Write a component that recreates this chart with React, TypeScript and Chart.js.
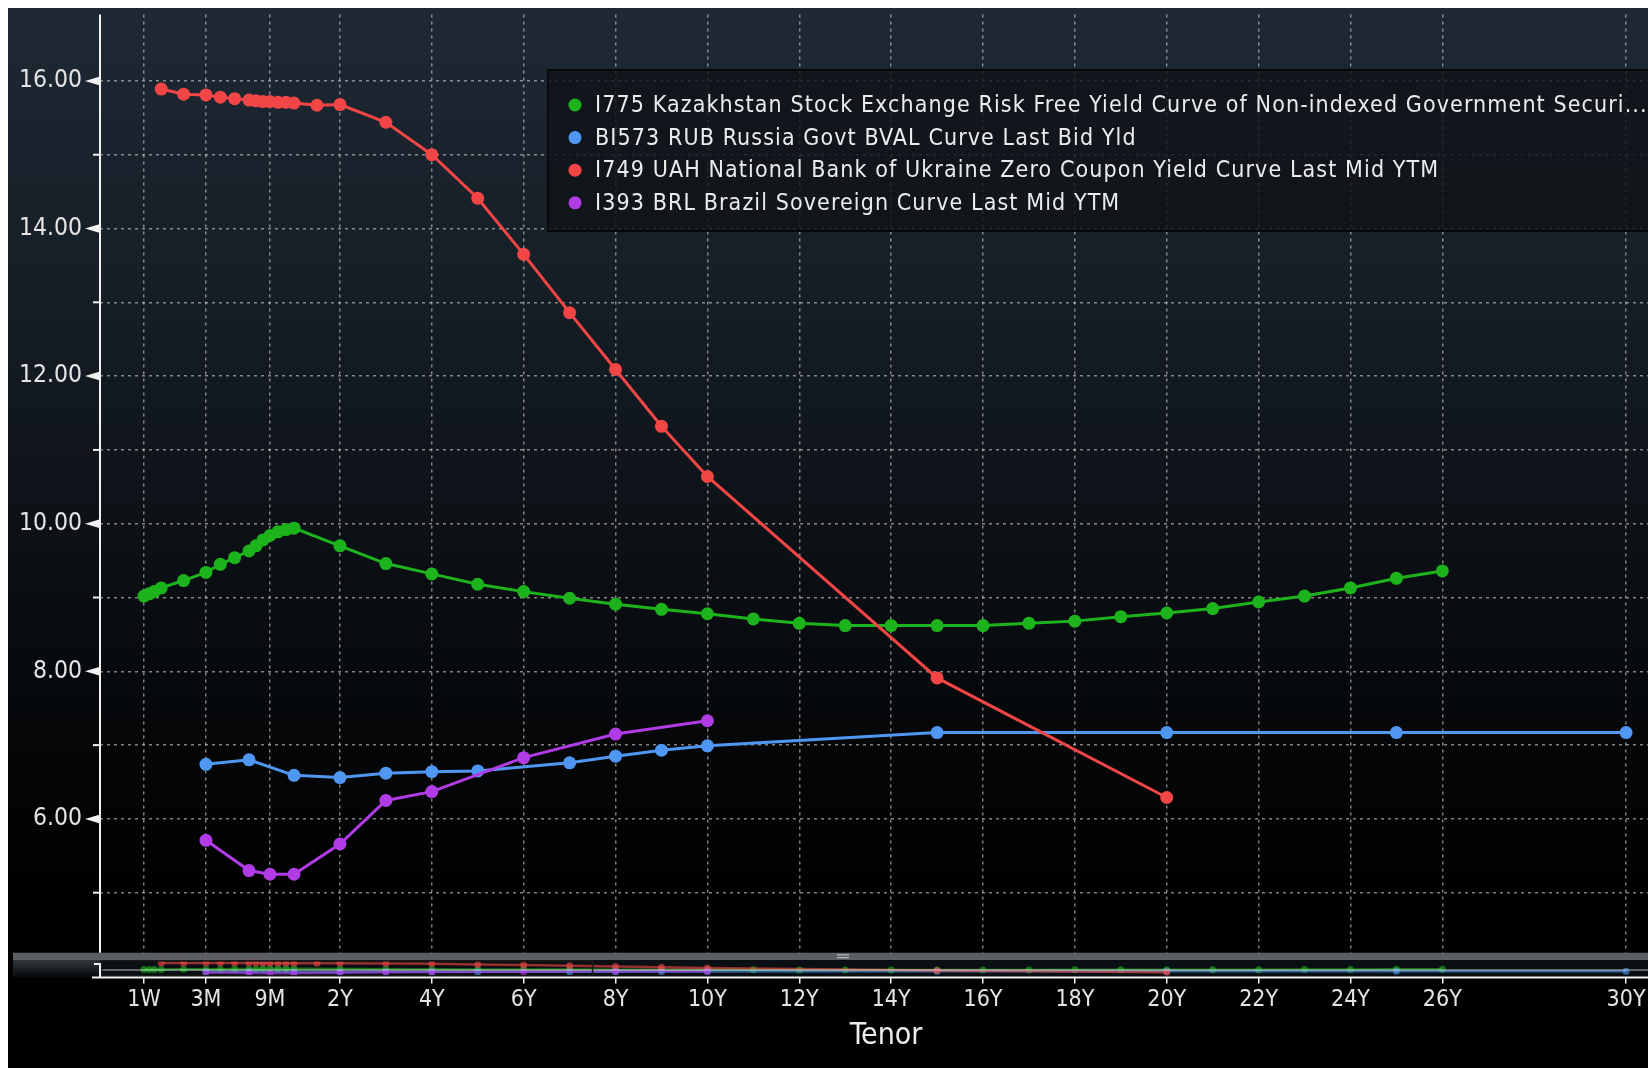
import React, { useEffect, useRef } from 'react';
import { Chart, LinearScale, registerables } from 'chart.js';

// ---------------- data ----------------
const TICK_TENORS = ['1W', '3M', '9M', '2Y', '4Y', '6Y', '8Y', '10Y', '12Y', '14Y', '16Y', '18Y', '20Y', '22Y', '24Y', '26Y', '30Y'];
const Y_GRID = [4, 5, 6, 7, 8, 9, 10, 11, 12, 13, 14, 15, 16];

const KZ_LABEL = 'I775 Kazakhstan Stock Exchange Risk Free Yield Curve of Non-indexed Government Securi...';
const KZ_TENORS = ['1W', '2W', '3W', '1M', '2M', '3M', '4M', '5M', '6M', '7M', '8M', '9M', '10M', '11M', '12M',
  '2Y', '3Y', '4Y', '5Y', '6Y', '7Y', '8Y', '9Y', '10Y', '11Y', '12Y', '13Y', '14Y', '15Y', '16Y', '17Y', '18Y',
  '19Y', '20Y', '21Y', '22Y', '23Y', '24Y', '25Y', '26Y'];
const KZ_YIELDS = [9.02, 9.05, 9.08, 9.13, 9.23, 9.34, 9.45, 9.54, 9.63, 9.70, 9.78, 9.84, 9.89, 9.92, 9.94,
  9.70, 9.46, 9.32, 9.18, 9.08, 8.99, 8.91, 8.84, 8.78, 8.71, 8.65, 8.62, 8.62, 8.62, 8.62, 8.65, 8.68,
  8.74, 8.79, 8.85, 8.94, 9.02, 9.13, 9.26, 9.36];

const RU_LABEL = 'BI573 RUB Russia Govt BVAL Curve Last Bid Yld';
const RU_TENORS = ['3M', '6M', '1Y', '2Y', '3Y', '4Y', '5Y', '7Y', '8Y', '9Y', '10Y', '15Y', '20Y', '25Y', '30Y'];
const RU_YIELDS = [6.74, 6.80, 6.59, 6.56, 6.62, 6.64, 6.65, 6.76, 6.85, 6.93, 6.99, 7.17, 7.17, 7.17, 7.17];

const UA_LABEL = 'I749 UAH National Bank of Ukraine Zero Coupon Yield Curve Last Mid YTM';
const UA_TENORS = ['1M', '2M', '3M', '4M', '5M', '6M', '7M', '8M', '9M', '10M', '11M', '12M', '18M',
  '2Y', '3Y', '4Y', '5Y', '6Y', '7Y', '8Y', '9Y', '10Y', '15Y', '20Y'];
const UA_YIELDS = [15.89, 15.82, 15.81, 15.78, 15.76, 15.74, 15.73, 15.72, 15.72, 15.71, 15.71, 15.70, 15.67,
  15.68, 15.44, 15.00, 14.41, 13.65, 12.86, 12.09, 11.32, 10.64, 7.91, 6.29];

const BR_LABEL = 'I393 BRL Brazil Sovereign Curve Last Mid YTM';
const BR_TENORS = ['3M', '6M', '9M', '1Y', '2Y', '3Y', '4Y', '6Y', '8Y', '10Y'];
const BR_YIELDS = [5.71, 5.30, 5.25, 5.25, 5.66, 6.25, 6.37, 6.83, 7.15, 7.33];

// tenor axis layout (Bloomberg stretches the short end)
const AXIS_BREAKS = [0, 1 / 52, 0.25, 0.5, 0.75, 1, 2, 31];
const AXIS_UNITS = [-3.224, -2.266, -0.917, 0.02, 0.476, 1, 2, 31];

const FONT = "'DejaVu Sans Condensed', 'Liberation Sans Narrow', 'DejaVu Sans', sans-serif";

// ---------------- helpers ----------------
const tenorYears = (t: string) => {
  const n = parseFloat(t);
  const u = t.slice(-1);
  return u === 'W' ? n / 52 : u === 'M' ? n / 12 : n;
};

const interp = (v: number, from: number[], to: number[]) => {
  let i = 1;
  while (i < from.length - 1 && v > from[i]) i++;
  const f0 = from[i - 1], f1 = from[i];
  return to[i - 1] + ((v - f0) * (to[i] - to[i - 1])) / (f1 - f0);
};
const warp = (t: number) => interp(t, AXIS_BREAKS, AXIS_UNITS);
const unwarp = (u: number) => interp(u, AXIS_UNITS, AXIS_BREAKS);

class TenorScale extends LinearScale {
  static id = 'tenor';
  getPixelForValue(value: any) {
    if (value === null || value === undefined || isNaN(+value)) return NaN;
    const a = warp(this.min), b = warp(this.max);
    return this.getPixelForDecimal((warp(+value) - a) / (b - a));
  }
  getValueForPixel(pixel: number) {
    const a = warp(this.min), b = warp(this.max);
    return unwarp(a + this.getDecimalForPixel(pixel) * (b - a));
  }
}

Chart.register(...registerables, TenorScale as any);

const SERIES = [
  { label: KZ_LABEL, tenors: KZ_TENORS, yields: KZ_YIELDS, color: '#1db31d', order: 2 },
  { label: RU_LABEL, tenors: RU_TENORS, yields: RU_YIELDS, color: '#4f97f2', order: 3 },
  { label: UA_LABEL, tenors: UA_TENORS, yields: UA_YIELDS, color: '#f24646', order: 1 },
  { label: BR_LABEL, tenors: BR_TENORS, yields: BR_YIELDS, color: '#b13ce6', order: 0 },
];

// ---------------- plugins ----------------
const bgPlugin = {
  id: 'bbgBackground',
  beforeDraw(chart: any) {
    const { ctx, width, height } = chart;
    const g = ctx.createLinearGradient(0, 0, 0, height);
    g.addColorStop(0, '#1e2934');
    g.addColorStop(0.3, '#151c24');
    g.addColorStop(0.5, '#0c1116');
    g.addColorStop(0.68, '#050709');
    g.addColorStop(0.84, '#000000');
    g.addColorStop(1, '#000000');
    ctx.save();
    ctx.fillStyle = g;
    ctx.fillRect(0, 0, width, height);
    ctx.restore();
  },
};

const navigatorPlugin = {
  id: 'bbgNavigator',
  afterDatasetsDraw(chart: any) {
    const { ctx, chartArea, scales, width } = chart;
    const xs = scales.x, ys = scales.y;
    const bottom = chartArea.bottom;
    const navTop = bottom - 24.8;
    const barBot = navTop + 7.3;
    ctx.save();
    ctx.fillStyle = '#5b5f63';
    ctx.fillRect(5, navTop, width - 5, barBot - navTop);
    const lg = ctx.createLinearGradient(0, barBot, 0, bottom);
    lg.addColorStop(0, '#31383e');
    lg.addColorStop(1, '#06080a');
    ctx.fillStyle = lg;
    ctx.fillRect(5, barBot, chartArea.left - 5, bottom - barBot);
    ctx.fillStyle = '#0a0f13';
    ctx.fillRect(chartArea.left, barBot, width - chartArea.left, bottom - barBot);
    // mini series
    const miniY = (v: number) => bottom - 3 - ((v - ys.min) / (ys.max - ys.min)) * (bottom - barBot - 5);
    chart.data.datasets.forEach((ds: any) => {
      ctx.strokeStyle = ds.borderColor;
      ctx.fillStyle = ds.borderColor;
      ctx.globalAlpha = 0.6;
      ctx.lineWidth = 2.5;
      ctx.beginPath();
      ds.data.forEach((p: any, i: number) => {
        const px = xs.getPixelForValue(p.x);
        const py = miniY(p.y);
        if (i === 0) ctx.moveTo(px, py); else ctx.lineTo(px, py);
      });
      ctx.stroke();
      ds.data.forEach((p: any) => {
        ctx.beginPath();
        ctx.arc(xs.getPixelForValue(p.x), miniY(p.y), 3.5, 0, Math.PI * 2);
        ctx.fill();
      });
    });
    ctx.globalAlpha = 1;
    ctx.strokeStyle = 'rgba(225,225,225,0.85)';
    ctx.lineWidth = 1;
    ctx.beginPath();
    ctx.moveTo(chartArea.left, bottom - 7.5);
    ctx.lineTo(width, bottom - 7.5);
    ctx.stroke();
    ctx.strokeStyle = '#1a1a1a';
    ctx.lineWidth = 1.5;
    ctx.strokeRect(chartArea.left + 2, barBot + 0.8, xs.getPixelForValue(7.5) - chartArea.left - 2, bottom - barBot - 2.5);
    const hx = (chartArea.left + chartArea.right) / 2 - 43;
    ctx.strokeStyle = '#b8b8b8';
    ctx.lineWidth = 1.2;
    ctx.beginPath();
    ctx.moveTo(hx - 6, navTop + 2.2); ctx.lineTo(hx + 6, navTop + 2.2);
    ctx.moveTo(hx - 6, navTop + 5); ctx.lineTo(hx + 6, navTop + 5);
    ctx.stroke();
    // axis lines
    ctx.strokeStyle = '#f2f2f2';
    ctx.lineWidth = 2;
    ctx.beginPath();
    ctx.moveTo(chartArea.left, chartArea.top);
    ctx.lineTo(chartArea.left, navTop);
    ctx.moveTo(chartArea.left, barBot + 3);
    ctx.lineTo(chartArea.left, bottom);
    ctx.moveTo(chartArea.left - 8, bottom);
    ctx.lineTo(width, bottom);
    ctx.moveTo(chartArea.left - 6, barBot + 4);
    ctx.lineTo(chartArea.left, barBot + 4);
    ctx.stroke();
    // y markers
    ctx.fillStyle = '#f2f2f2';
    ys.ticks.forEach((t: any) => {
      const py = ys.getPixelForValue(t.value);
      if (py > navTop) return;
      if (t.value % 2 === 0) {
        ctx.beginPath();
        ctx.moveTo(chartArea.left - 15, py);
        ctx.lineTo(chartArea.left, py - 4.5);
        ctx.lineTo(chartArea.left, py + 4.5);
        ctx.closePath();
        ctx.fill();
      } else {
        ctx.beginPath();
        ctx.moveTo(chartArea.left - 7, py);
        ctx.lineTo(chartArea.left, py);
        ctx.stroke();
      }
    });
    ctx.restore();
  },
};

const legendPlugin = {
  id: 'bbgLegend',
  afterDraw(chart: any) {
    const { ctx } = chart;
    const x0 = 540, y0 = 62, h = 161;
    ctx.save();
    ctx.fillStyle = 'rgba(16,20,25,0.82)';
    ctx.fillRect(x0, y0, 1300, h);
    ctx.strokeStyle = '#07090b';
    ctx.lineWidth = 2;
    ctx.strokeRect(x0, y0, 1300, h);
    ctx.font = `23px ${FONT}`;
    (ctx as any).letterSpacing = '1.1px';
    ctx.textBaseline = 'middle';
    ctx.textAlign = 'left';
    chart.data.datasets.forEach((ds: any, i: number) => {
      const cy = 97 + i * 32.6;
      ctx.fillStyle = ds.borderColor;
      ctx.beginPath();
      ctx.arc(567, cy, 6.5, 0, Math.PI * 2);
      ctx.fill();
      ctx.fillStyle = '#ececec';
      ctx.fillText(ds.label, 587, cy + 1);
    });
    ctx.restore();
  },
};

// ---------------- component ----------------
export default function App() {
  const ref = useRef<HTMLCanvasElement>(null);
  useEffect(() => {
    document.documentElement.style.overflow = 'hidden';
    const datasets = SERIES.map((s) => ({
      label: s.label,
      data: s.tenors.map((t, i) => ({ x: tenorYears(t), y: s.yields[i] })),
      borderColor: s.color,
      backgroundColor: s.color,
      pointBackgroundColor: s.color,
      pointBorderColor: s.color,
      pointBorderWidth: 0,
      pointRadius: 6.5,
      borderWidth: 3,
      tension: 0,
      order: s.order,
    }));
    const gridStyle = {
      color: 'rgba(205,205,205,0.62)',
      lineWidth: 1.5,
    };
    const border = { display: false, dash: [3, 4] };
    const chart = new Chart(ref.current as HTMLCanvasElement, {
      type: 'line',
      data: { datasets } as any,
      plugins: [bgPlugin, navigatorPlugin, legendPlugin],
      options: {
        responsive: false,
        animation: false,
        layout: { padding: { top: 4, right: 16, bottom: 0, left: 0 } },
        plugins: { legend: { display: false }, tooltip: { enabled: false } },
        scales: {
          x: {
            type: 'tenor' as any,
            min: 0,
            max: 31,
            bounds: 'data',
            border,
            grid: { ...gridStyle, drawTicks: true, tickLength: 6, tickColor: '#f2f2f2', tickWidth: 1.5, tickBorderDash: [] } as any,
            afterBuildTicks: (s: any) => {
              s.ticks = TICK_TENORS.map((t) => ({ value: tenorYears(t) }));
            },
            afterFit: (s: any) => {
              s.height = 90.5;
              s.paddingLeft = 0;
              s.paddingRight = 0;
            },
            ticks: {
              autoSkip: false,
              maxRotation: 0,
              padding: 3,
              color: '#e4e4e4',
              font: { family: FONT, size: 23 },
              callback: (_v: any, i: number) => TICK_TENORS[i] ?? '',
            },
            title: {
              display: true,
              text: 'Tenor',
              color: '#ececec',
              font: { family: FONT, size: 30 },
              padding: { top: 0, bottom: 13.6 },
            },
          } as any,
          y: {
            type: 'linear',
            min: 3.851,
            max: 16.9,
            bounds: 'data',
            border,
            grid: { ...gridStyle, drawTicks: false } as any,
            afterBuildTicks: (s: any) => {
              s.ticks = Y_GRID.map((v) => ({ value: v }));
            },
            afterFit: (s: any) => {
              s.width = 92;
              s.paddingTop = 0;
              s.paddingBottom = 0;
            },
            ticks: {
              padding: 18,
              color: '#e4e4e4',
              font: { family: FONT, size: 24.5 },
              callback: (v: any) => (Number(v) % 2 === 0 ? Number(v).toFixed(2) : ''),
            },
          } as any,
        },
      } as any,
    });
    return () => chart.destroy();
  }, []);
  return (
    <div style={{ position: 'fixed', left: 8, top: 8, width: 1640, height: 1060, overflow: 'hidden' }}>
      <canvas ref={ref} width={1680} height={1060} style={{ display: 'block' }} />
    </div>
  );
}
